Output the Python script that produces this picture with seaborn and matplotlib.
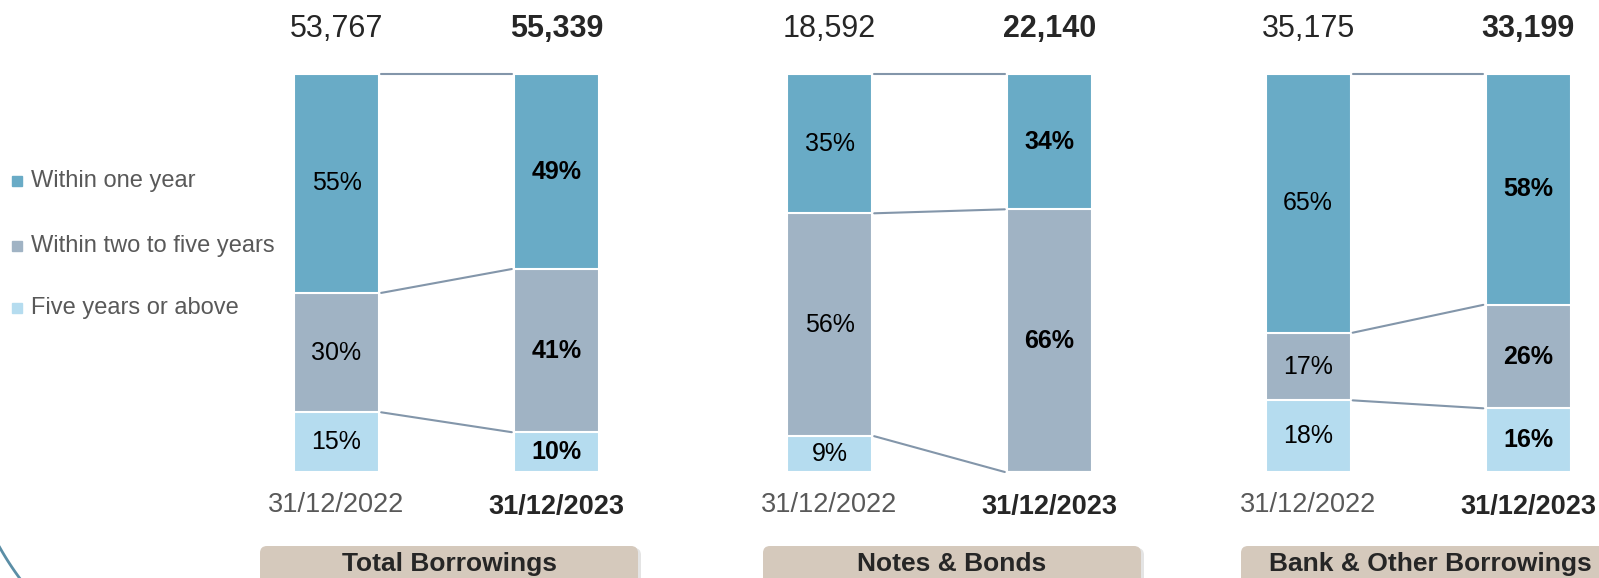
import numpy as np
import pandas as pd
import matplotlib
matplotlib.use('Agg')
import matplotlib.pyplot as plt
import seaborn as sns
from matplotlib.patches import FancyBboxPatch, Rectangle

# données
panels = ['Total Borrowings', 'Notes & Bonds', 'Bank & Other Borrowings']
dates = ['31/12/2022', '31/12/2023']
totals_2022 = [53767, 18592, 35175]
totals_2023 = [55339, 22140, 33199]
within_one = [[55, 49], [35, 34], [65, 58]]
two_to_five = [[30, 41], [56, 66], [17, 26]]
five_plus = [[15, 10], [9, 0], [18, 16]]
series = ['Within one year', 'Within two to five years', 'Five years or above']

colors = ['#69abc6', '#a0b3c4', '#b5dcef']
line_col = '#8396aa'
box_col = '#d5c9bc'
grey_txt = '#595959'

sns.set_style('white')
plt.rcParams['font.family'] = ['Liberation Sans', 'DejaVu Sans']

W, H = 1599, 578
fig = plt.figure(figsize=(W / 100, H / 100), dpi=100)

# axe de décor en pixels (légende, cadres, arc)
deco = fig.add_axes([0, 0, 1, 1])
deco.set_xlim(0, W)
deco.set_ylim(H, 0)
deco.axis('off')

# arc décoratif en bas à gauche
ang = np.radians(np.linspace(138, 153, 50))
deco.plot(261 + 300 * np.cos(ang), 400 + 300 * np.sin(ang), color='#5b8ea6', lw=2)

# légende
for i, (name, c) in enumerate(zip(series, colors)):
    yc = [181, 246, 308][i]
    deco.add_patch(Rectangle((12, yc - 5), 10, 10, color=c))
    deco.text(31, yc, name, fontsize=17, color=grey_txt, va='center', ha='left')

# cadres beiges sous chaque panneau
box_left = [260, 763, 1241]
for bl, title in zip(box_left, panels):
    deco.add_patch(FancyBboxPatch((bl + 3, 548), 378, 40, boxstyle='round,pad=0,rounding_size=7',
                                  fc='#e4e4e4', ec='none', zorder=1))
    deco.add_patch(FancyBboxPatch((bl, 546), 378, 40, boxstyle='round,pad=0,rounding_size=7',
                                  fc=box_col, ec='none', zorder=2))
    deco.text(bl + 189, 564, title, fontsize=19, fontweight='bold', ha='center', va='center', zorder=3)

centers = [336.5, 829.5, 1308]
spacing = 220
bw = 85 / spacing
bottom = 1 - 472 / H
height = (472 - 74) / H

for k in range(3):
    ax = fig.add_axes([(centers[k] - spacing / 2) / W, bottom, 2 * spacing / W, height])
    ax.patch.set_alpha(0)
    low = np.array(five_plus[k])
    mid = np.array(two_to_five[k])
    top = np.array(within_one[k])
    cums = [top + mid + low, mid + low, low]
    for cum, c in zip(cums, colors):
        df = pd.DataFrame({'date': dates, 'val': cum})
        sns.barplot(data=df, x='date', y='val', color=c, width=bw, edgecolor='white',
                    linewidth=1.5, errorbar=None, saturation=1, ax=ax)
    ax.set_xlim(-0.5, 1.5)
    ax.set_ylim(0, 100)
    ax.axis('off')

    # lignes de liaison entre les barres
    for cum in cums:
        if cum[0] == 0 and cum[1] == 0:
            continue
        ax.plot([bw / 2 + 0.01, 1 - bw / 2 - 0.01], [cum[0], cum[1]], color=line_col, lw=1.5,
                clip_on=False, zorder=5)

    # étiquettes des segments
    for j in range(2):
        segs = [(top[j], low[j] + mid[j]), (mid[j], low[j]), (low[j], 0)]
        for v, b in segs:
            if v == 0:
                continue
            ax.text(j, b + v / 2, f'{v}%', ha='center', va='center', fontsize=18,
                    fontweight='bold' if j == 1 else 'normal', color='black',
                    zorder=6)

    # totaux et dates
    ax.text(0, 111.3, f'{totals_2022[k]:,}', ha='center', va='center', fontsize=22, clip_on=False)
    ax.text(1, 111.3, f'{totals_2023[k]:,}', ha='center', va='center', fontsize=22,
            fontweight='bold', clip_on=False)
    ax.text(0, -8.3, dates[0], ha='center', va='center', fontsize=19.5, color=grey_txt, clip_on=False)
    ax.text(1, -8.8, dates[1], ha='center', va='center', fontsize=19.5, fontweight='bold',
            clip_on=False)

fig.savefig('out.png', dpi=100)
